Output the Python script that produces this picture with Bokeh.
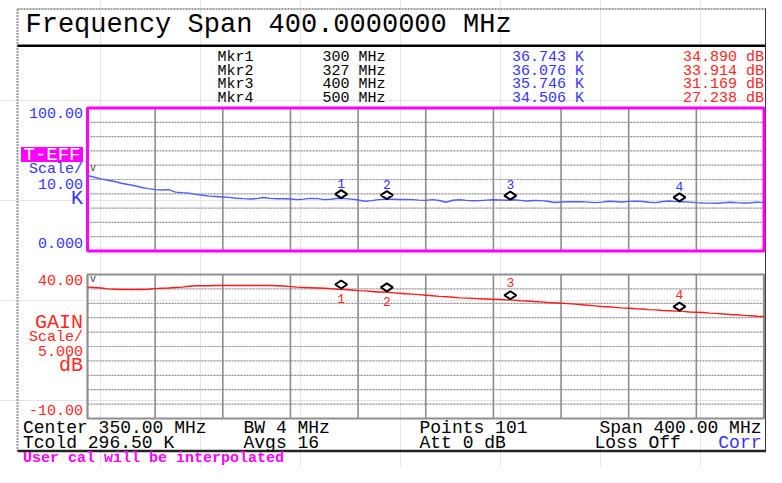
import numpy as np
from bokeh.plotting import figure
from bokeh.models import Range1d, ColumnDataSource, LabelSet, Label
from bokeh.transform import dodge
from bokeh.core.properties import value
from bokeh.embed import file_html
from bokeh.resources import INLINE

# ---------------- data ----------------
TITLE = "Frequency Span 400.0000000 MHz"
CENTER_MHZ = 350.0
SPAN_MHZ = 400.0
N_POINTS = 101

teff_k = [
    52.8, 51.6, 50.4, 49.5, 48.6, 47.4, 46.5, 45.6, 44.4, 43.6,
    42.9, 42.7, 42.9, 41.2, 40.8, 40.5, 39.6, 39.0, 38.4, 38.1,
    37.8, 37.5, 36.9, 36.6, 36.4, 36.6, 37.4, 36.8, 36.5, 36.5,
    36.4, 35.9, 36.3, 36.8, 36.6, 35.9, 36.2, 36.9, 36.6, 36.3,
    35.7, 34.8, 35.2, 35.9, 36.1, 36.2, 36.0, 36.1, 35.9, 35.6,
    35.4, 35.9, 35.3, 34.1, 35.5, 35.8, 35.4, 35.1, 35.2, 35.6,
    35.8, 35.7, 35.5, 35.8, 35.4, 35.0, 35.3, 35.2, 34.8, 33.9,
    34.3, 34.5, 34.4, 34.5, 34.2, 33.8, 34.2, 34.8, 34.6, 34.3,
    34.7, 34.9, 34.6, 34.1, 33.8, 34.6, 35.0, 34.5, 34.4, 34.2,
    33.8, 33.6, 33.5, 33.4, 33.7, 34.1, 33.8, 33.6, 33.7, 34.2, 33.8,
]
gain_db = [
    35.6, 35.5, 35.3, 35.0, 34.9, 34.8, 34.8, 34.8, 34.8, 34.9,
    35.1, 35.2, 35.3, 35.5, 35.6, 35.9, 36.1, 36.1, 36.1, 36.2,
    36.2, 36.2, 36.2, 36.2, 36.2, 36.2, 36.2, 36.2, 36.1, 36.0,
    35.8, 35.6, 35.5, 35.4, 35.3, 35.2, 35.1, 34.9, 34.8, 34.6,
    34.4, 34.3, 34.1, 33.9, 33.9, 33.7, 33.5, 33.3, 33.2, 33.0,
    32.8, 32.6, 32.4, 32.3, 32.1, 31.9, 31.8, 31.7, 31.6, 31.5,
    31.4, 31.3, 31.2, 31.1, 30.9, 30.8, 30.6, 30.5, 30.3, 30.2,
    30.0, 29.9, 29.7, 29.5, 29.3, 29.1, 28.9, 28.8, 28.6, 28.4,
    28.3, 28.1, 28.0, 27.8, 27.7, 27.5, 27.4, 27.3, 27.2, 27.0,
    26.9, 26.8, 26.6, 26.5, 26.3, 26.1, 26.0, 25.8, 25.7, 25.5, 25.4,
]

marker_names = ["Mkr1", "Mkr2", "Mkr3", "Mkr4"]
marker_nums = ["1", "2", "3", "4"]
marker_freq_mhz = [300, 327, 400, 500]
marker_teff_k = [36.743, 36.076, 35.746, 34.506]
marker_gain_db = [34.890, 33.914, 31.169, 27.238]

teff_scale = [0.0, 100.0]
teff_tick_labels = ["0.000", "100.00"]
teff_per_div = "10.00"
gain_scale = [-10.0, 40.0]
gain_tick_labels = ["-10.00", "40.00"]
gain_per_div = "5.000"

status_row1 = ["Center 350.00 MHz", "BW 4 MHz", "Points 101", "Span 400.00 MHz"]
status_row2 = ["Tcold 296.50 K", "Avgs 16", "Att 0 dB", "Loss Off", "Corr"]
message = "User cal will be interpolated"

# ---------------- layout (canvas pixel coordinates) ----------------
W, H = 766, 467
GX0, GX1 = 87.0, 763.5
TY0, TY1 = 107.5, 250.5
GY0, GY1 = 274.0, 418.0

F0 = CENTER_MHZ - SPAN_MHZ / 2
F1 = CENTER_MHZ + SPAN_MHZ / 2
freq = np.linspace(F0, F1, N_POINTS)

def fx(px):
    return F0 + (px - GX0) * (F1 - F0) / (GX1 - GX0)

T_MIN, T_MAX = teff_scale
G_MIN, G_MAX = gain_scale

def tv(py):
    return T_MIN + (TY1 - py) * (T_MAX - T_MIN) / (TY1 - TY0)

def gv(py):
    return G_MIN + (GY1 - py) * (G_MAX - G_MIN) / (GY1 - GY0)

p = figure(width=W, height=H, x_range=Range1d(0, W), y_range=Range1d(H, 0),
           output_backend="svg", toolbar_location=None, min_border=0,
           x_axis_location=None, y_axis_location=None)
p.outline_line_color = None
p.background_fill_color = "white"
p.border_fill_color = "white"
p.extra_x_ranges = {"freq": Range1d(fx(0), fx(W))}
p.extra_y_ranges = {"teff": Range1d(tv(H), tv(0)),
                    "gain": Range1d(gv(H), gv(0))}

MONO = "Liberation Mono"
BLUE_T = "#3434ff"
BLUE_L = "#4f5cff"
RED_T = "#ff2626"
RED_L = "#ff1a1a"
MAG = "#ff00ff"
GRID = "#8c8c8c"

def txt(x, y, s, size, color="black", align="left", baseline="middle", bold=False,
        yr="default", y_off=0):
    p.add_layout(Label(x=x, y=y, text=s, text_font=MONO, text_font_size=f"{size}px",
                       text_color=color, text_align=align, text_baseline=baseline,
                       text_font_style="bold" if bold else "normal",
                       y_range_name=yr, y_offset=y_off))

# ---------------- frame ----------------
BOT = 450.5
p.segment(x0=[17, 17], y0=[8.5, 8.5], x1=[766, 17], y1=[8.5, BOT],
          line_color="#9a9a9a", line_width=2, line_dash="2 1")
p.segment(x0=[17], y0=[45.3], x1=[766], y1=[45.3], line_color="black", line_width=2.5)
p.segment(x0=[17], y0=[BOT], x1=[766], y1=[BOT], line_color="#222222", line_width=2.5)
p.segment(x0=[765.5], y0=[8], x1=[765.5], y1=[BOT], line_color="#333333", line_width=2)

txt(25, 24.5, TITLE, 27)

# ---------------- panels ----------------
div_f = np.linspace(F0, F1, 11)
for rname, vmin, vmax, border in (("teff", T_MIN, T_MAX, MAG), ("gain", G_MIN, G_MAX, "#8f8f8f")):
    levels = np.linspace(vmin, vmax, 11)[1:-1]
    p.segment(x0=[F0] * len(levels), x1=[F1] * len(levels), y0=levels, y1=levels,
              x_range_name="freq", y_range_name=rname,
              line_color=GRID, line_width=1.2, line_dash="2 1")
    p.segment(x0=div_f[1:-1], x1=div_f[1:-1], y0=[vmin] * 9, y1=[vmax] * 9,
              x_range_name="freq", y_range_name=rname, line_color=GRID, line_width=1.6)
    p.quad(left=[F0], right=[F1], bottom=[vmin], top=[vmax], fill_color=None,
           line_color=border, line_width=3 if rname == "teff" else 2.2,
           x_range_name="freq", y_range_name=rname)

trace = ColumnDataSource(dict(freq=freq, teff=teff_k, gain=gain_db))
p.line("freq", "teff", source=trace, x_range_name="freq", y_range_name="teff",
       line_color=BLUE_L, line_width=1.4)
p.line("freq", "gain", source=trace, x_range_name="freq", y_range_name="gain",
       line_color=RED_L, line_width=1.4)

# markers
DT = 4.3 * (T_MAX - T_MIN) / (TY1 - TY0)
DG = 4.7 * (G_MAX - G_MIN) / (GY1 - GY0)
mk = ColumnDataSource(dict(freq=marker_freq_mhz, teff=marker_teff_k,
                           gain=marker_gain_db, num=marker_nums))
p.scatter(x="freq", y=dodge("teff", DT), source=mk, marker="diamond", size=12,
          angle=np.pi / 2, fill_color="white", line_color="black", line_width=2,
          x_range_name="freq", y_range_name="teff")
p.scatter(x="freq", y=dodge("gain", DG), source=mk, marker="diamond", size=12,
          angle=np.pi / 2, fill_color="white", line_color="black", line_width=2,
          x_range_name="freq", y_range_name="gain")
p.add_layout(LabelSet(x="freq", y="teff", text="num", source=mk, x_range_name="freq",
                      y_range_name="teff", y_offset=15, text_align="center",
                      text_baseline="middle", text_font=value(MONO),
                      text_font_size="13px", text_color=BLUE_T))
below = [0, 1]
above = [2, 3]
for idx, off in ((below, -9), (above, 17)):
    s = ColumnDataSource(dict(freq=[marker_freq_mhz[i] for i in idx],
                              gain=[marker_gain_db[i] for i in idx],
                              num=[marker_nums[i] for i in idx]))
    p.add_layout(LabelSet(x="freq", y="gain", text="num", source=s, x_range_name="freq",
                          y_range_name="gain", y_offset=off, text_align="center",
                          text_baseline="middle", text_font=value(MONO),
                          text_font_size="13px", text_color=RED_T))

# chevrons
txt(92.5, 167.5, "v", 10, color="#444444", align="center")
txt(92.5, 278.5, "v", 10, color="#444444", align="center")

# ---------------- marker table ----------------
rows_y = [57.0, 70.5, 84.0, 97.5]
for i, y in enumerate(rows_y):
    txt(217, y, marker_names[i], 15)
    txt(353.5, y, f"{marker_freq_mhz[i]} MHz", 15, align="center")
    txt(583.5, y, f"{marker_teff_k[i]:.3f} K", 15, color=BLUE_T, align="right")
    txt(763.5, y, f"{marker_gain_db[i]:.3f} dB", 15, color=RED_T, align="right")

# ---------------- left scale labels ----------------
LX = 82.5
txt(LX, T_MAX, teff_tick_labels[1], 15, color=BLUE_T, align="right", yr="teff", y_off=-5.2)
txt(LX, T_MIN, teff_tick_labels[0], 15, color=BLUE_T, align="right", yr="teff", y_off=7.8)
p.quad(left=[20.5], right=[82.5], top=[146.5], bottom=[161.5], fill_color=MAG, line_color=None)
txt(51.5, 154.5, "T-EFF", 19, color="white", align="center")
txt(LX, 169.3, "Scale/", 15, color=BLUE_T, align="right")
txt(LX, 183.3, teff_per_div, 15, color=BLUE_T, align="right")
txt(LX, 197.8, "K", 20, color=BLUE_T, align="right")

txt(LX, G_MAX, gain_tick_labels[1], 15, color=RED_T, align="right", yr="gain", y_off=-5.0)
txt(LX, G_MIN, gain_tick_labels[0], 15, color=RED_T, align="right", yr="gain", y_off=9.0)
txt(LX, 322.0, "GAIN", 20, color=RED_T, align="right")
txt(LX, 336.7, "Scale/", 15, color=RED_T, align="right")
txt(LX, 350.0, gain_per_div, 15, color=RED_T, align="right")
txt(LX, 364.5, "dB", 20, color=RED_T, align="right")

# ---------------- status lines ----------------
r1x = [(22.5, "left"), (243, "left"), (419, "left"), (761, "right")]
for s, (x, a) in zip(status_row1, r1x):
    txt(x, 427.5, s, 18, align=a)
r2x = [(22.5, "left"), (243, "left"), (419, "left"), (594, "left"), (761, "right")]
for s, (x, a) in zip(status_row2, r2x):
    txt(x, 442.5, s, 18, align=a, color=BLUE_T if s == "Corr" else "black")

txt(22.5, 466.0, message, 15, color=MAG, bold=True, baseline="bottom")

open("out.html", "w").write(file_html(p, INLINE))
